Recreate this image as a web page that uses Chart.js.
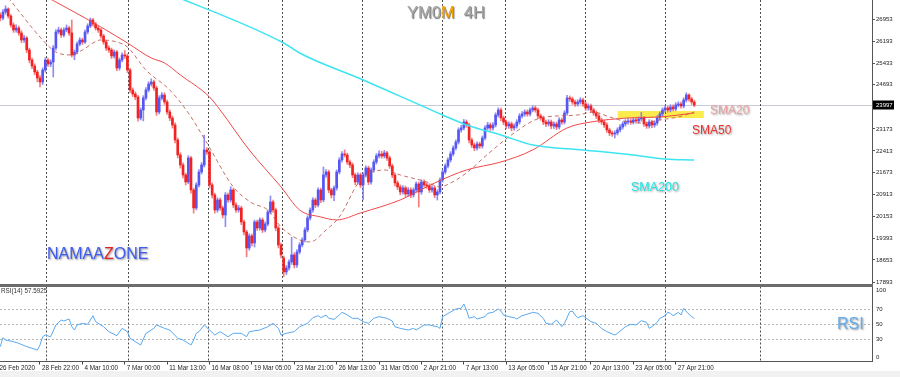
<!DOCTYPE html>
<html><head><meta charset="utf-8">
<script src="https://cdn.jsdelivr.net/npm/chart.js@4.4.0/dist/chart.umd.min.js"></script>
<style>
html,body{margin:0;padding:0;background:#fff;}
#wrap{position:relative;width:900px;height:377px;overflow:hidden;font-family:"Liberation Sans",Arial,sans-serif;background:#fff;}
canvas{position:absolute;left:0;}
#c1{top:0;}
#c2{top:285px;}
.t{position:absolute;white-space:nowrap;line-height:1;}
</style></head>
<body><div id="wrap">
<canvas id="c1" width="900" height="285"></canvas>
<canvas id="c2" width="900" height="92"></canvas>
<div style="position:absolute;left:0;top:371px;width:900px;height:6px;background:#f1f1f1"></div>
<div style="position:absolute;left:0;top:284px;width:873px;height:3px;background:#6c6c6c"></div>
<div class="t" style="left:407px;top:4px;font-size:16.5px;color:#a4a4a4;text-shadow:1px 1px 1px #6a6a6a,0 0 2px #fff;">YM0<span style="color:#f2a000">M</span>&nbsp;&nbsp;4H</div>
<div class="t" style="left:47px;top:246px;font-size:16px;color:#3d5cf0;text-shadow:1px 1px 2px #8a8a8a,0 0 2px #fff;">NAMAA<span style="color:#e42020">Z</span>ONE</div>
<div class="t" style="left:710px;top:104px;font-size:12px;color:#eaa2a2;text-shadow:1px 1px 2px #9a9a9a,0 0 2px #fff;">SMA20</div>
<div class="t" style="left:692px;top:124px;font-size:12px;color:#ee3232;text-shadow:1px 1px 2px #9a9a9a,0 0 2px #fff;">SMA50</div>
<div class="t" style="left:631px;top:181px;font-size:12.5px;color:#22e6e6;text-shadow:1px 1px 2px #9a9a9a,0 0 2px #fff;">SMA200</div>
<div class="t" style="left:837px;top:316px;font-size:16px;color:#62aef0;text-shadow:1px 1px 2px #8a8a8a,0 0 2px #fff;">RSI</div>
<div class="t" style="left:1px;top:288px;font-size:6.3px;color:#333;">RSI(14) 57.5925</div>
</div>
<script>
// ---------- data ----------
const open = [26929,27102,26998,27205,27309,27067,26757,26585,26654,26481,
26240,26309,25895,25550,25343,25136,24930,24792,25205,25550,
25412,25481,25964,26516,26585,26412,26585,26654,26481,25723,
25826,26102,26240,26171,26516,26723,26929,26792,26654,26585,
26378,26171,25964,25895,25688,25826,25274,25550,25723,25688,
25205,24516,24378,24274,23550,23826,24240,24516,24723,24792,
24585,23757,24240,24343,24102,23757,23550,23309,22792,22275,
21930,21585,21344,22171,21068,20447,21240,21688,21930,22447,
22378,21240,20895,20378,20723,20447,20206,20895,20723,21068,
20551,20378,20447,19964,19619,19068,19482,19240,19964,19757,
20034,19689,19895,20309,20654,20378,19757,19172,18723,18241,
18378,18585,18827,18482,18930,19172,19344,19689,20102,20378,
20723,20551,21068,20723,21585,21688,21068,20895,21137,21688,
22102,22309,22275,22033,21930,21585,21344,21585,21240,21585,
21826,21344,21757,22033,22240,22309,22240,22344,22171,21895,
21585,21309,21171,20999,21137,20930,21068,20895,21068,21275,
20999,21344,21240,21206,21068,21137,20895,20999,21413,21688,
21895,22102,22309,22516,22723,23137,23206,23412,23309,22792,
22619,22516,22654,22585,22861,23206,23309,23206,23309,23654,
23826,23550,23412,23275,23344,23206,23275,23412,23619,23688,
23757,23688,23826,23895,23826,23619,23550,23412,23344,23412,
23275,23344,23240,23481,23412,23723,24240,24206,24102,24033,
24102,24171,24033,23895,23964,23826,23723,23619,23481,23412,
23309,23137,23033,22999,23033,23137,23240,23344,23412,23447,
23412,23481,23447,23516,23550,23344,23275,23412,23309,23378,
23550,23688,23826,23895,23826,23930,23861,23999,24033,23964,
24171,24343,24206,24102];
const close = [27102,26998,27205,27309,27067,26757,26585,26654,26481,26240,
26309,25895,25550,25343,25136,24930,24792,25205,25550,25412,
25481,25964,26516,26585,26412,26585,26654,26481,25723,25826,
26102,26240,26171,26516,26723,26929,26792,26654,26585,26378,
26171,25964,25895,25688,25826,25274,25550,25723,25688,25205,
24516,24378,24274,23550,23826,24240,24516,24723,24792,24585,
23757,24240,24343,24102,23757,23550,23309,22792,22275,21930,
21585,21344,22171,21068,20447,21240,21688,21930,22447,22378,
21240,20895,20378,20723,20447,20206,20895,20723,21068,20551,
20378,20447,19964,19619,19068,19482,19240,19964,19757,20034,
19689,19895,20309,20654,20378,19757,19172,18827,18241,18378,
18585,18827,18482,18930,19172,19344,19689,20102,20378,20723,
20551,21068,20723,21585,21688,21068,20895,21137,21688,22102,
22309,22275,22033,21930,21585,21344,21585,21240,21585,21826,
21344,21757,22033,22240,22309,22240,22344,22171,21895,21585,
21309,21171,20999,21137,20930,21068,20895,21068,21275,20999,
21344,21240,21206,21068,21137,20895,20999,21413,21688,21895,
22102,22309,22516,22723,23137,23206,23412,23309,22792,22619,
22516,22654,22585,22861,23206,23309,23206,23309,23654,23826,
23550,23412,23275,23344,23206,23275,23412,23619,23688,23757,
23688,23826,23895,23826,23619,23550,23412,23344,23412,23275,
23344,23240,23481,23412,23723,24240,24206,24102,24033,24102,
24171,24033,23895,23964,23826,23723,23619,23481,23412,23309,
23137,23033,22999,23033,23137,23240,23344,23412,23447,23412,
23481,23447,23516,23550,23344,23275,23412,23309,23378,23550,
23688,23826,23895,23826,23930,23861,23999,24033,23964,24171,
24343,24206,24102,23997];
const high = [27200,27180,27290,27420,27350,27120,26830,26760,26720,26560,
26400,26360,25960,25620,25420,25200,25010,25280,25630,25620,
25560,26050,26600,26680,26650,26660,26760,26720,26930,25900,
26180,26320,26300,26590,26800,27000,26990,26850,26720,26640,
26440,26230,26040,25960,25900,25880,25620,25800,25880,25760,
25260,24590,24450,24330,23900,24320,24600,24800,24900,24860,
24650,24320,24430,24420,24170,23830,23620,23380,22860,22350,
22000,21650,22250,22230,21130,21320,21770,22010,22960,22530,
22440,21310,20960,20800,20790,20510,20980,20960,21180,21130,
20620,20530,20510,20030,19680,19560,19550,20030,20030,20110,
20100,19970,20380,20860,20720,20440,19830,19240,18790,18460,
18660,19440,18900,19010,19250,19420,19770,20180,20450,20800,
20790,21140,21130,21860,21770,21750,21130,21210,21760,22180,
22390,22450,22340,22100,22000,21650,21660,21650,21660,21900,
21890,21830,22110,22320,22420,22400,22430,22400,22240,21960,
21650,21380,21240,21220,21200,21150,21140,21140,21350,21340,
21420,21420,21310,21280,21210,21200,21070,21490,21760,21970,
22180,22390,22590,22800,23210,23300,23500,23480,23370,22860,
22690,22730,22720,22930,23280,23400,23380,23390,23730,23900,
23890,23620,23480,23420,23410,23350,23490,23700,23770,23830,
23830,23900,23970,23960,23890,23690,23620,23480,23490,23480,
23420,23410,23560,23550,23800,24330,24310,24270,24170,24180,
24250,24240,24100,24040,24030,23890,23790,23690,23550,23480,
23380,23200,23100,23110,23210,23320,23420,23490,23530,23520,
23560,23550,23590,23740,23610,23410,23490,23480,23450,23630,
23760,23900,23970,23960,24010,24000,24080,24110,24100,24250,
24420,24380,24270,24160];
const low = [26850,26900,26930,27130,26990,26680,26500,26510,26400,26150,
26160,25800,25450,25250,25040,24800,24620,24700,25130,25330,
25320,24960,25900,26450,26330,26350,26520,26400,25650,25560,
25760,26040,26090,26120,26450,26660,26720,26580,26500,26300,
26090,25880,25810,25600,25610,25180,25200,25480,25600,25120,
24420,24290,24180,23440,23480,23450,24170,24450,24650,24500,
23640,23690,24170,24020,23670,23460,23200,22690,22170,21820,
21480,21240,21280,20960,20270,20380,21170,21620,21860,22290,
21130,20790,20270,20300,20360,20100,19800,20640,20650,20460,
20290,20300,19870,19520,18760,18990,19140,19100,19670,19680,
19600,19620,19830,20240,20290,19660,19070,18720,18080,18150,
18300,18500,18380,18400,18860,19100,19280,19620,20030,20300,
20460,20480,20630,20660,21500,20970,20790,20700,21060,21620,
22030,22200,21950,21840,21490,21250,21270,21150,20720,21510,
21250,21270,21680,21960,22170,22160,22170,22090,21810,21490,
21210,21080,20900,20920,20840,20850,20800,20820,21000,20480,
20920,21160,21120,20980,20990,20800,20720,20930,21340,21620,
21830,22030,22240,22450,22650,23060,23140,23230,22690,22530,
22420,22440,22500,22510,22790,23140,23120,23130,23240,23580,
23460,23320,23180,23190,23110,23130,23200,23340,23550,23610,
23610,23620,23760,23750,23530,23470,23320,23250,23270,23180,
23190,23150,23170,23330,23340,23650,24120,24020,23950,23960,
24030,23950,23810,23820,23740,23640,23530,23390,23330,23220,
23050,22940,22910,22860,22960,23070,23170,23270,23340,23330,
23340,23370,23370,23440,23260,23190,23200,23220,23230,23300,
23480,23620,23750,23750,23760,23790,23800,23930,23890,23900,
24100,24130,24020,23940];

const sma20Idx = [4,17,22,28,32,39,45,49,56,65,72,79,89,96,102,107,114,118,124,129,137,146,152,162,167,171,177,185,195,205,219,225,231,238,244,250,257,263];
const sma20Val = [27700,26240,25826,25723,25895,26240,26171,25998,25205,24516,23723,22688,21171,20620,20378,19792,19344,19275,19689,20137,21413,21757,21585,21344,21171,21309,21654,22300,23033,23550,23654,23757,23585,23412,23378,23481,23585,23757];
const sma50Idx = [15,39,49,58,63,69,80,84,95,107,114,122,128,137,152,165,177,190,202,215,224,238,250,263];
const sma50Val = [27900,26688,26136,25619,25447,25033,24274,23826,22447,21171,20378,20137,20034,20275,20723,21309,21757,22033,22447,23206,23412,23550,23585,23723];
const sma200Idx = [60,108,114,138,168,177,190,202,221,240,252,263];
const sma200Val = [28010,26136,25792,24861,23654,23309,22964,22619,22447,22275,22137,22102];

const rsiIdx = [1,2,3,6,8,11,13,15,16,17,18,20,22,24,25,27,28,29,30,32,34,36,37,40,42,45,47,49,50,51,54,56,59,60,63,65,68,70,73,74,75,76,78,80,82,84,87,89,92,94,95,99,102,104,106,107,109,112,114,117,119,121,122,124,125,127,129,130,132,134,136,138,140,142,144,147,149,150,152,155,157,158,161,163,166,167,168,171,173,175,176,177,178,180,181,184,185,187,189,190,191,193,195,196,198,201,202,204,206,207,209,210,211,213,214,216,217,218,219,221,224,226,228,230,233,234,237,239,241,243,245,246,247,249,250,252,253,254,255,257,258,259,260,262,263];
const rsiVal = [19.8,31.8,28.7,26.4,24.2,19.8,17.6,15.3,22,33,35.3,33,48.7,55.3,54,56.7,46.4,42,48.7,50.9,49.6,61.1,53.1,46.4,39.8,34.4,44.2,39.8,30.9,28.7,22,37.6,44.2,48.7,44.2,42,30.9,28.7,22,28.7,37.6,39.8,48.7,42,35.3,39.8,33,37.6,37.6,33,39.8,42,46.4,50.9,44.2,35.3,37.6,39.8,46.4,50.9,58.4,61.1,58.4,62,57.6,56.2,62,65.6,62,57.6,57.6,53.1,50.9,57.6,59.8,57.6,54,46.4,44.2,42,44.2,42,48.7,48.7,46.4,44.2,59.8,66,70,70.9,76.7,68.7,57.6,59.8,56.7,59.8,64.2,65.6,70,67.3,62,59.8,58.4,56.7,61.1,64.2,65.6,64.2,57.6,50.9,49.6,52.2,55.3,46.4,50.9,66.4,67.3,62,58.4,61.1,53.1,50.9,44.2,39.8,35.3,37.6,46.4,49.6,48.7,54.4,52.2,44.2,46.4,52.2,57.6,61.1,65.6,64.2,61.1,65.6,62,70.9,66.4,59.8,57.6];

const priceTicks = [17893,18653,19393,20153,20913,21673,22413,23173,24693,25433,26193,26953];
const lastPrice = 23997;
const rsiTicks = [0,30,50,70,100];
const rsiLevels = [30,50,70];
const timeIdx = [0,16,32,48,64,80,96,112,128,144,160,176,192,208,224,240,256];
const timeLabels = ['26 Feb 2020','28 Feb 22:00','4 Mar 10:00','7 Mar 00:00','11 Mar 13:00','16 Mar 08:00','19 Mar 05:00','23 Mar 21:00','26 Mar 13:00','31 Mar 05:00','2 Apr 21:00','7 Apr 13:00','13 Apr 05:00','15 Apr 21:00','20 Apr 13:00','23 Apr 05:00','27 Apr 21:00'];
const gridIdx = [18.3,49.3,79.5,107.5,137.7,167.9,191.7,221.6,251.8,287.7];
const zone = [234.1, 266.6, 23550, 23790]; // bar range, price range

// ---------- setup ----------
const FONT = "'Liberation Sans', Arial, sans-serif";
const xMin = 0.9, xMax = 330.1;
const pts = (ix, v) => ix.map((k, i) => ({x: k, y: v[i]}));
const barIdx = open.map((_, i) => i);
const isUp = barIdx.map(i => close[i] >= open[i]);
const bodyCol = isUp.map(u => u ? 'rgb(86,86,242)' : 'rgb(242,34,34)');
const wickCol = isUp.map(u => u ? 'rgba(112,112,246,0.8)' : 'rgba(244,92,92,0.8)');

const frame = {
  id: 'frame',
  beforeDatasetsDraw(chart, args, o) {
    const {ctx, chartArea: a, scales: {x, y}} = chart;
    ctx.save();
    if (o.zone) {
      const x0 = x.getPixelForValue(zone[0]), x1 = x.getPixelForValue(zone[1]);
      const y0 = y.getPixelForValue(zone[3]), y1 = y.getPixelForValue(zone[2]);
      ctx.fillStyle = 'rgba(250,232,50,0.88)';
      ctx.fillRect(x0, y0, x1 - x0, y1 - y0);
    }
    ctx.lineWidth = 1;
    if (o.priceLine) {
      const py = Math.round(y.getPixelForValue(lastPrice)) + 0.5;
      ctx.strokeStyle = '#cacad6';
      ctx.beginPath(); ctx.moveTo(a.left, py); ctx.lineTo(a.right, py); ctx.stroke();
    }
    if (o.levels) {
      ctx.strokeStyle = '#b4b4b4'; ctx.setLineDash([2, 2]);
      o.levels.forEach(v => {
        const py = Math.round(y.getPixelForValue(v)) + 0.5;
        ctx.beginPath(); ctx.moveTo(a.left, py); ctx.lineTo(a.right, py); ctx.stroke();
      });
    }
    ctx.strokeStyle = '#4c4c4c'; ctx.setLineDash([2, 2]);
    gridIdx.forEach(v => {
      const px = Math.round(x.getPixelForValue(v)) + 0.5;
      ctx.beginPath(); ctx.moveTo(px, a.top); ctx.lineTo(px, a.bottom); ctx.stroke();
    });
    ctx.restore();
  },
  afterDraw(chart, args, o) {
    const {ctx, chartArea: a, scales: {y}} = chart;
    ctx.save();
    if (o.priceBox) {
      const py = y.getPixelForValue(lastPrice);
      ctx.fillStyle = '#000';
      ctx.fillRect(a.right + 1, Math.round(py) - 4.5, 21, 9);
      ctx.fillStyle = '#fff';
      ctx.font = '6px ' + FONT; ctx.textBaseline = 'middle'; ctx.textAlign = 'left';
      ctx.fillText(String(lastPrice), a.right + 4, py + 0.5);
    }
    if (o.rsiLabels) {
      ctx.fillStyle = '#222'; ctx.font = '6px ' + FONT; ctx.textBaseline = 'middle'; ctx.textAlign = 'left';
      rsiTicks.forEach(v => {
        let py = y.getPixelForValue(v);
        py = Math.min(Math.max(py, a.top + 3.5), a.bottom - 4.5);
        ctx.fillText(String(v), a.right + 4, py);
      });
    }
    ctx.restore();
  }
};

new Chart(document.getElementById('c1'), {
  type: 'bar',
  data: {datasets: [
    {type: 'line', data: pts(sma200Idx, sma200Val), borderColor: '#3ce4f2', borderWidth: 1.5, pointRadius: 0, cubicInterpolationMode: 'monotone', order: 0},
    {type: 'line', data: pts(sma50Idx, sma50Val), borderColor: '#ef4848', borderWidth: 1, pointRadius: 0, cubicInterpolationMode: 'monotone', order: 0},
    {type: 'line', data: pts(sma20Idx, sma20Val), borderColor: 'rgba(188,88,78,0.85)', borderWidth: 1, borderDash: [4, 3], pointRadius: 0, cubicInterpolationMode: 'monotone', order: 0},
    {type: 'bar', data: barIdx.map(i => ({x: i, y: [low[i], high[i]]})), backgroundColor: wickCol, barThickness: 1, grouped: false, order: 2},
    {type: 'bar', data: barIdx.map(i => ({x: i, y: [open[i], close[i]]})), backgroundColor: bodyCol, barThickness: 2, grouped: false, minBarLength: 1, order: 1}
  ]},
  options: {
    responsive: false, animation: false, events: [],
    layout: {padding: 0},
    plugins: {legend: {display: false}, tooltip: {enabled: false}, frame: {zone: true, priceLine: true, priceBox: true}},
    scales: {
      x: {type: 'linear', min: xMin, max: xMax, offset: false, ticks: {display: false}, grid: {display: false}, border: {display: false},
          afterFit(s) { s.height = 0; s.paddingLeft = 0; s.paddingRight = 0; }},
      y: {position: 'right', min: 17790, max: 27619,
          afterBuildTicks(s) { s.ticks = priceTicks.map(v => ({value: v})); },
          ticks: {font: {size: 6, family: FONT}, color: '#222', padding: 1, callback: v => String(v)},
          grid: {drawOnChartArea: false, drawTicks: true, tickLength: 3, color: '#555'},
          border: {display: true, color: '#555'},
          afterFit(s) { s.width = 28; s.paddingTop = 0; s.paddingBottom = 0; }}
    }
  },
  plugins: [frame]
});

new Chart(document.getElementById('c2'), {
  type: 'line',
  data: {datasets: [
    {data: pts(rsiIdx, rsiVal), borderColor: '#58a8f0', borderWidth: 1, pointRadius: 0, tension: 0}
  ]},
  options: {
    responsive: false, animation: false, events: [],
    layout: {padding: {top: 1.5, left: 0, right: 0, bottom: 0}},
    plugins: {legend: {display: false}, tooltip: {enabled: false}, frame: {levels: rsiLevels, rsiLabels: true}},
    scales: {
      x: {type: 'linear', min: xMin, max: xMax, offset: false,
          afterBuildTicks(s) { s.ticks = timeIdx.map(v => ({value: v})); },
          ticks: {autoSkip: false, maxRotation: 0, minRotation: 0, align: 'start', labelOffset: 2, padding: 0,
                  font: {size: 6.3, family: FONT}, color: '#222', callback: (v, i) => timeLabels[i]},
          grid: {drawOnChartArea: false, drawTicks: true, tickLength: 3, color: '#444'},
          border: {display: true, color: '#555'},
          afterFit(s) { s.height = 15.5; s.paddingLeft = 0; s.paddingRight = 0; }},
      y: {position: 'right', min: 0, max: 100, ticks: {display: false}, grid: {display: false},
          border: {display: true, color: '#555'},
          afterFit(s) { s.width = 28; s.paddingTop = 0; s.paddingBottom = 0; }}
    }
  },
  plugins: [frame]
});
</script>
</body></html>
